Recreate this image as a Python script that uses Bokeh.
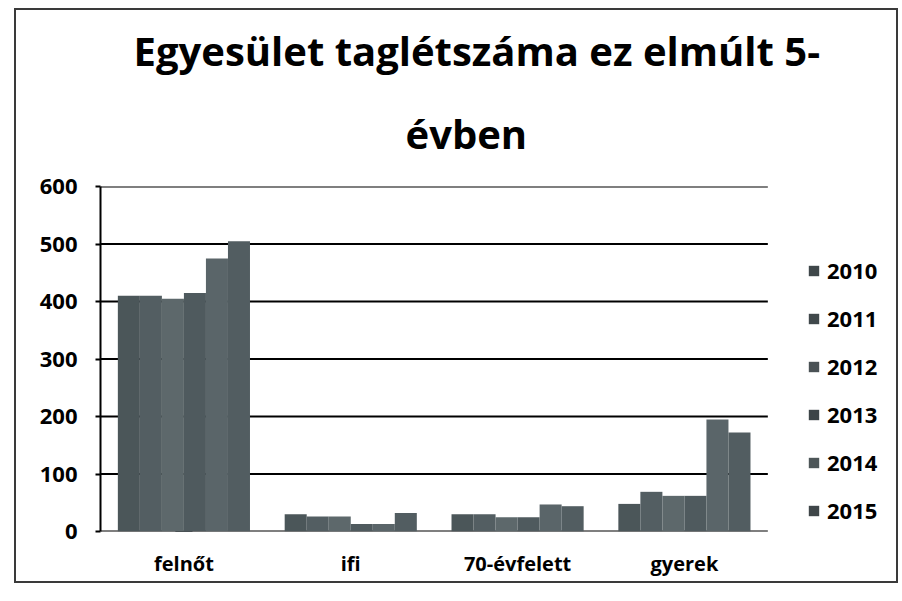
from bokeh.plotting import figure
from bokeh.models import (ColumnDataSource, Legend, LegendItem, FixedTicker, Title,
                          Range1d)
from bokeh.transform import dodge
from bokeh.embed import file_html
from bokeh.resources import INLINE

categories = ["felnőt", "ifi", "70-évfelett", "gyerek"]
years = ["2010", "2011", "2012", "2013", "2014", "2015"]
v2010 = [410, 30, 30, 48]
v2011 = [410, 26, 30, 69]
v2012 = [405, 26, 25, 62]
v2013 = [415, 13, 25, 62]
v2014 = [475, 13, 47, 195]
v2015 = [505, 32, 44, 172]
y_ticks = [0, 100, 200, 300, 400, 500, 600]
title_lines = ["Egyesület taglétszáma ez elmúlt 5-", "évben"]

series = [v2010, v2011, v2012, v2013, v2014, v2015]
colors = ["#4b5659", "#535e62", "#5d686b", "#4f5a5e", "#5a6569", "#525d61"]
legend_colors = ["#3f474a", "#40484b", "#4a5255", "#3d4548", "#4d5658", "#3f4649"]

centers = [i + 0.5 for i in range(len(categories))]
data = {"xc": centers}
for y, s in zip(years, series):
    data["y" + y] = s
source = ColumnDataSource(data)

FONT = "Open Sans"
W, H = 884, 575
ML, MB, MT, MR = 84, 54, 176, 0
frame_w = W - 4 - ML - MR
unit_px = 166.0
x_end = frame_w / unit_px

p = figure(x_range=Range1d(0, x_end), y_range=Range1d(0, 600), width=W, height=H,
           output_backend="svg", toolbar_location=None,
           min_border_left=ML, min_border_right=MR, min_border_bottom=MB,
           min_border_top=MT)
p.styles = {"border": "2px solid #3a3a3a", "margin-left": "14px", "margin-top": "8px"}

# line 2 (nearest to the plot) first, then line 1 above it
t2 = Title(text=title_lines[1], align="left", offset=305, text_font=FONT,
           text_font_size="40px", text_font_style="bold", text_color="#000000",
           standoff=52)
try:
    t2.text_line_height = 0.75
except Exception:
    pass
t1 = Title(text=title_lines[0], align="left", offset=33, text_font=FONT,
           text_font_size="40px", text_font_style="bold", text_color="#000000",
           standoff=0)
p.add_layout(t2, "above")
p.add_layout(t1, "above")

# gridlines over the category span
n = len(categories)
p.segment(x0=[0] * len(y_ticks), x1=[n] * len(y_ticks), y0=y_ticks, y1=y_ticks,
          line_color="#000000", line_width=2)

bw = 0.132
offsets = [-2.5 * bw, -1.5 * bw, -0.5 * bw, 0.5 * bw, 1.5 * bw, 2.5 * bw]
for y, off, c in zip(years, offsets, colors):
    p.vbar(x=dodge("xc", off), top="y" + y, width=bw,
           source=source, fill_color=c, line_color=None)

items = []
for y, c in zip(years, legend_colors):
    r = p.vbar(x=[0.5], top=[-1000], bottom=[-1001], width=0.1,
               fill_color=c, line_color=None)
    items.append(LegendItem(label=y, renderers=[r]))
legend = Legend(items=items, location=(707, 6), glyph_width=13, glyph_height=13,
                label_height=22, spacing=18, padding=0, margin=0,
                label_standoff=7, border_line_color=None,
                label_text_font=FONT, label_text_font_size="22px",
                label_text_font_style="bold", label_text_color="#000000",
                background_fill_alpha=0)
p.add_layout(legend, "center")

p.yaxis.ticker = FixedTicker(ticks=y_ticks)
p.yaxis.axis_line_color = "#000000"
p.yaxis.axis_line_width = 2
p.yaxis.major_tick_in = 0
p.yaxis.major_tick_out = 5
p.yaxis.major_tick_line_color = "#000000"
p.yaxis.major_tick_line_width = 2
p.yaxis.minor_tick_line_color = None
p.yaxis.major_label_text_font = FONT
p.yaxis.major_label_text_font_size = "22px"
p.yaxis.major_label_text_font_style = "bold"
p.yaxis.major_label_text_color = "#000000"
p.yaxis.major_label_standoff = 18

p.xaxis.ticker = FixedTicker(ticks=centers)
p.xaxis.major_label_overrides = {c: lab for c, lab in zip(centers, categories)}
p.xaxis.axis_line_color = None
p.xaxis.major_tick_line_color = None
p.xaxis.minor_tick_line_color = None
p.xaxis.major_label_text_font = FONT
p.xaxis.major_label_text_font_size = "20px"
p.xaxis.major_label_text_font_style = "bold"
p.xaxis.major_label_text_color = "#000000"
p.xaxis.major_label_standoff = 12

p.xgrid.grid_line_color = None
p.ygrid.grid_line_color = None
p.outline_line_color = None

open("out.html", "w").write(file_html(p, INLINE))
